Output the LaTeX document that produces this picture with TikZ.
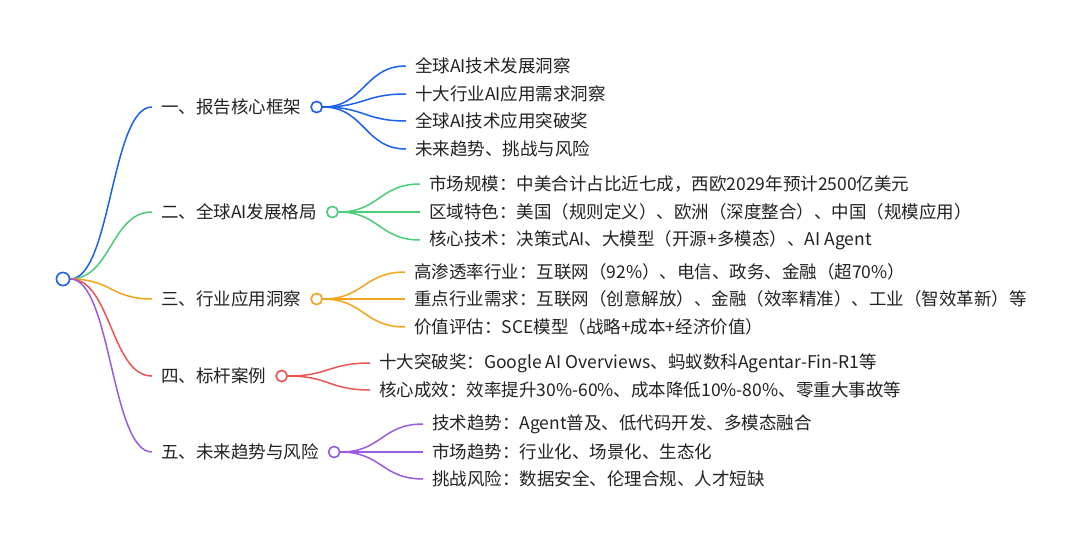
\documentclass[tikz,border=0pt]{standalone}
\usepackage{fontspec}
\setmainfont{Noto Sans CJK SC}
\usetikzlibrary{calc}
\definecolor{cblue}{RGB}{28,98,232}
\definecolor{cgreen}{RGB}{76,204,120}
\definecolor{corange}{RGB}{244,164,28}
\definecolor{cred}{RGB}{236,84,84}
\definecolor{cpurple}{RGB}{152,92,220}
\definecolor{ctext}{RGB}{34,34,34}
\tikzset{
  link/.style={line width=1.5pt,
    to path={let \p1=(\tikztostart), \p2=(\tikztotarget) in
      .. controls ({(\x1+\x2)/2},\y1) and ({(\x1+\x2)/2},\y2) .. (\tikztotarget)}},
  lvl/.style={anchor=west, inner xsep=9pt, inner ysep=0pt, text=ctext, font=\fontsize{17.5}{20}\selectfont},
  leaf/.style={anchor=west, inner xsep=9pt, inner ysep=0pt, text=ctext, font=\fontsize{17.5}{20}\selectfont},
  dot/.style={circle, draw=#1, fill=white, line width=1.5pt, minimum size=11pt, inner sep=0pt, anchor=west},
}
\begin{document}
\begin{tikzpicture}[x=1pt,y=-1pt]
\useasboundingbox[fill=white] (0,0) rectangle (1080,544);

% root
\node[circle, draw=cblue, fill=white, line width=1.5pt, minimum size=13pt, inner sep=0pt] (r) at (63,279) {};

% level 1
\node[lvl] (a) at (152,107) {一、报告核心框架};
\node[dot=cblue] (ac) at (a.east) {};
\node[lvl] (b) at (152,212) {二、全球AI发展格局};
\node[dot=cgreen] (bc) at (b.east) {};
\node[lvl] (c) at (152,299) {三、行业应用洞察};
\node[dot=corange] (cc) at (c.east) {};
\node[lvl] (d) at (152,376) {四、标杆案例};
\node[dot=cred] (dc) at (d.east) {};
\node[lvl] (e) at (152,452) {五、未来趋势与风险};
\node[dot=cpurple] (ec) at (e.east) {};

\draw[link, cblue] (r.east) to (a.west);
\draw[link, cgreen] (r.east) to (b.west);
\draw[link, corange] (r.east) to (c.west);
\draw[link, cred] (r.east) to (d.west);
\draw[link, cpurple] (r.east) to (e.west);

% leaves blue
\node[leaf] (a1) at (406,66) {全球AI技术发展洞察};
\node[leaf] (a2) at (406,94) {十大行业AI应用需求洞察};
\node[leaf] (a3) at (406,121) {全球AI技术应用突破奖};
\node[leaf] (a4) at (406,149) {未来趋势、挑战与风险};
\foreach \q in {a1,a2,a3,a4} \draw[link, cblue] (ac.east) to (\q.west);

% leaves green
\node[leaf] (b1) at (420,184) {市场规模：中美合计占比近七成，西欧2029年预计2500亿美元};
\node[leaf] (b2) at (420,212) {区域特色：美国（规则定义）、欧洲（深度整合）、中国（规模应用）};
\node[leaf] (b3) at (420,240) {核心技术：决策式AI、大模型（开源+多模态）、AI Agent};
\foreach \q in {b1,b2,b3} \draw[link, cgreen] (bc.east) to (\q.west);

% leaves orange
\node[leaf] (c1) at (405,272) {高渗透率行业：互联网（92\%）、电信、政务、金融（超70\%）};
\node[leaf] (c2) at (405,299) {重点行业需求：互联网（创意解放）、金融（效率精准）、工业（智效革新）等};
\node[leaf] (c3) at (405,327) {价值评估：SCE模型（战略+成本+经济价值）};
\foreach \q in {c1,c2,c3} \draw[link, corange] (cc.east) to (\q.west);

% leaves red
\node[leaf] (d1) at (370,363) {十大突破奖：Google AI Overviews、蚂蚁数科Agentar-Fin-R1等};
\node[leaf] (d2) at (370,390) {核心成效：效率提升30\%-60\%、成本降低10\%-80\%、零重大事故等};
\foreach \q in {d1,d2} \draw[link, cred] (dc.east) to (\q.west);

% leaves purple
\node[leaf] (e1) at (423,424) {技术趋势：Agent普及、低代码开发、多模态融合};
\node[leaf] (e2) at (423,452) {市场趋势：行业化、场景化、生态化};
\node[leaf] (e3) at (423,479) {挑战风险：数据安全、伦理合规、人才短缺};
\foreach \q in {e1,e2,e3} \draw[link, cpurple] (ec.east) to (\q.west);

% redraw dots on top
\node[dot=cblue] at (a.east) {};
\node[dot=cgreen] at (b.east) {};
\node[dot=corange] at (c.east) {};
\node[dot=cred] at (d.east) {};
\node[dot=cpurple] at (e.east) {};
\node[circle, draw=cblue, fill=white, line width=1.5pt, minimum size=13pt, inner sep=0pt] at (63,279) {};
\end{tikzpicture}
\end{document}
